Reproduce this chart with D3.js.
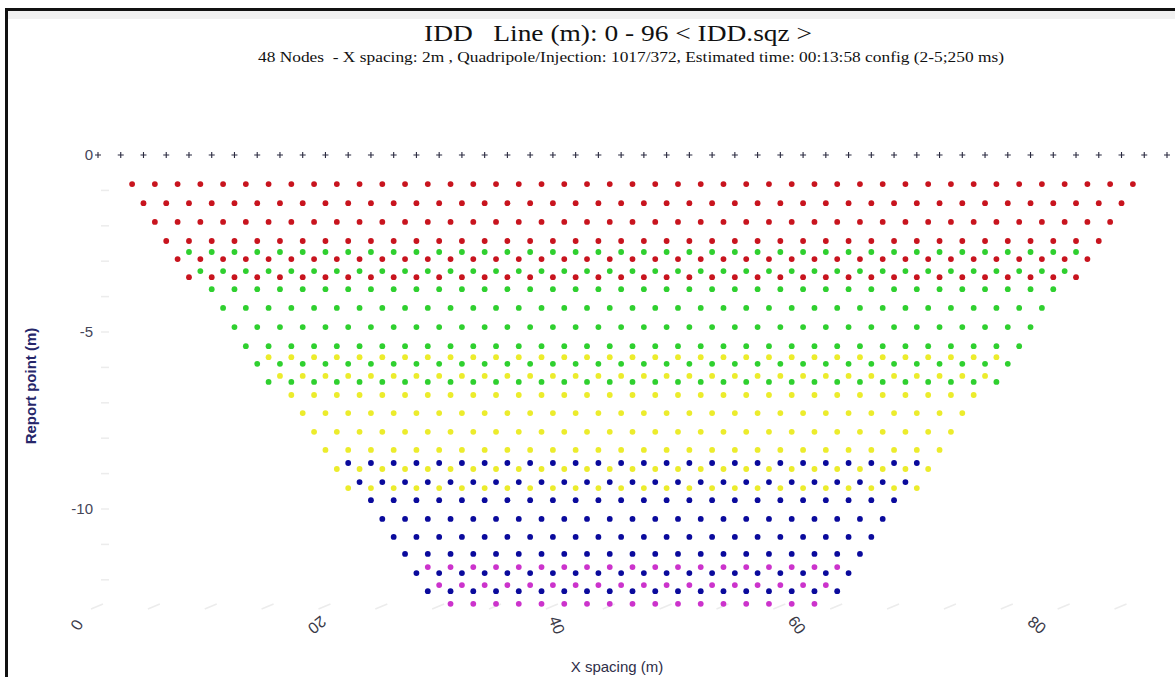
<!DOCTYPE html>
<html>
<head>
<meta charset="utf-8">
<script src="https://cdn.jsdelivr.net/npm/d3@7"></script>
<style>
  body { margin: 0; background: #fff; }
  svg { display: block; }
</style>
</head>
<body>
<script>
const width = 1175, height = 677;

// 48 nodes, 2 m apart
const electrodes = [0, 2, 4, 6, 8, 10, 12, 14, 16, 18, 20, 22, 24, 26, 28, 30,
  32, 34, 36, 38, 40, 42, 44, 46, 48, 50, 52, 54, 56, 58, 60, 62,
  64, 66, 68, 70, 72, 74, 76, 78, 80, 82, 84, 86, 88, 90, 92, 94];
const lineEnd = 94;

// report-point rows: depth (m) and first x (m); each row runs symmetric to lineEnd - start
const redDepth = [-0.82, -1.36, -1.89, -2.43, -2.94, -3.45];
const redStart = [3, 4, 5, 6, 7, 8];
const greenDepth = [-2.74, -3.28, -3.79, -4.32, -4.86, -5.40, -5.90, -6.41];
const greenStart = [8, 9, 10, 11, 12, 13, 14, 15];
const yellowDepth = [-5.71, -6.24, -6.78, -7.29, -7.82, -8.33, -8.87, -9.41];
const yellowStart = [15, 16, 17, 18, 19, 20, 21, 22];
const blueDepth = [-8.70, -9.24, -9.75, -10.28, -10.79, -11.27, -11.81, -12.32];
const blueStart = [22, 23, 24, 25, 26, 27, 28, 29];
const magentaDepth = [-11.64, -12.15, -12.68];
const magentaStart = [29, 30, 31];

const xTickLabels = [0, 20, 40, 60, 80];
const xLabelAngle = [120, 141, 69, 54, 39];
const yTickLabels = [0, -5, -10];

const groups = [
  {color: "#c8141e", depth: redDepth, start: redStart},
  {color: "#2fd02f", depth: greenDepth, start: greenStart},
  {color: "#ecec2c", depth: yellowDepth, start: yellowStart},
  {color: "#0a0a9c", depth: blueDepth, start: blueStart},
  {color: "#cc33cc", depth: magentaDepth, start: magentaStart}
];

const points = [];
groups.forEach(g => g.depth.forEach((d, i) => {
  for (let xm = g.start[i]; xm <= lineEnd - g.start[i]; xm += 2)
    points.push({x: xm, y: d, color: g.color});
}));

const x = d3.scaleLinear().domain([0, 94]).range([98, 1167]);
const y = d3.scaleLinear().domain([0, -10]).range([155, 509]);
// bottom labels sit on the front plane of the 3D view
const xFront = d3.scaleLinear().domain([0, 80]).range([77, 1037]);

const svg = d3.select("body").append("svg")
    .attr("width", width)
    .attr("height", height);

// frame
svg.append("rect").attr("x", 8).attr("y", 11).attr("width", width - 8).attr("height", 8).attr("fill", "#f0f0f0");
svg.append("rect").attr("x", 5).attr("y", 8).attr("width", width - 5).attr("height", 3).attr("fill", "#111");
svg.append("rect").attr("x", 5).attr("y", 8).attr("width", 3).attr("height", height - 8).attr("fill", "#111");

// titles
svg.append("text")
    .attr("x", 618).attr("y", 41)
    .attr("text-anchor", "middle")
    .style("white-space", "pre")
    .attr("font-family", "Liberation Serif, serif")
    .attr("font-size", 24)
    .attr("textLength", 388)
    .attr("lengthAdjust", "spacingAndGlyphs")
    .attr("fill", "#111")
    .text("IDD   Line (m): 0 - 96 < IDD.sqz >");

svg.append("text")
    .attr("x", 631).attr("y", 62)
    .attr("text-anchor", "middle")
    .style("white-space", "pre")
    .attr("font-family", "Liberation Serif, serif")
    .attr("font-size", 15)
    .attr("textLength", 746)
    .attr("lengthAdjust", "spacingAndGlyphs")
    .attr("fill", "#111")
    .text("48 Nodes  - X spacing: 2m , Quadripole/Injection: 1017/372, Estimated time: 00:13:58 config (2-5;250 ms)");

// y axis
svg.append("g")
    .attr("transform", "translate(93,0)")
    .call(d3.axisLeft(y).tickValues(yTickLabels).tickSize(0).tickPadding(0).tickFormat(d => String(d)))
    .call(g => g.select(".domain").remove())
    .call(g => g.selectAll("text")
        .attr("font-family", "Liberation Sans, Arial, sans-serif")
        .attr("font-size", 15)
        .attr("fill", "#454558"));

// faint minor ticks on y
svg.append("g")
    .selectAll("line")
    .data(d3.range(-1, -13, -1))
    .join("line")
    .attr("x1", 101).attr("x2", 109)
    .attr("y1", d => y(d)).attr("y2", d => y(d))
    .attr("stroke", "#ececec")
    .attr("stroke-width", 1.5);

// faint ticks along the bottom
svg.append("g")
    .selectAll("line")
    .data(d3.range(0, 95, 5))
    .join("line")
    .attr("x1", d => x(d) - 7).attr("y1", 609)
    .attr("x2", d => x(d) + 5).attr("y2", 604)
    .attr("stroke", "#ececec")
    .attr("stroke-width", 1.5);

// rotated bottom labels
svg.append("g")
    .selectAll("text")
    .data(xTickLabels)
    .join("text")
    .attr("transform", (d, i) => `translate(${xFront(d)},625) rotate(${xLabelAngle[i]})`)
    .attr("text-anchor", "middle")
    .attr("dy", "0.35em")
    .attr("font-family", "Liberation Sans, Arial, sans-serif")
    .attr("font-size", 16)
    .attr("fill", "#3a3a48")
    .text(d => d);

// axis titles
svg.append("text")
    .attr("x", 617).attr("y", 672)
    .attr("text-anchor", "middle")
    .attr("font-family", "Liberation Sans, Arial, sans-serif")
    .attr("font-size", 15)
    .attr("fill", "#2e2e48")
    .text("X spacing (m)");

svg.append("text")
    .attr("transform", "translate(36,386) rotate(-90)")
    .attr("text-anchor", "middle")
    .attr("font-family", "Liberation Sans, Arial, sans-serif")
    .attr("font-size", 15)
    .attr("font-weight", "bold")
    .attr("fill", "#26266a")
    .text("Report point (m)");

// electrodes
svg.append("g")
    .selectAll("path")
    .data(electrodes)
    .join("path")
    .attr("transform", d => `translate(${x(d)},${y(0)})`)
    .attr("d", "M-3,0H3M0,-3V3")
    .attr("stroke", "#2a2a40")
    .attr("stroke-width", 1.1);

// report points
svg.append("g")
    .selectAll("circle")
    .data(points)
    .join("circle")
    .attr("cx", d => x(d.x))
    .attr("cy", d => y(d.y))
    .attr("r", 2.9)
    .attr("fill", d => d.color);
</script>
</body>
</html>
